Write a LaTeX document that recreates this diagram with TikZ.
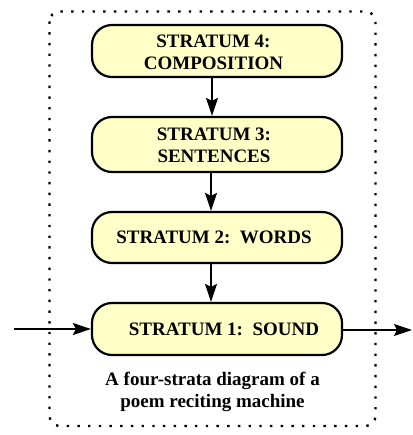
\documentclass[tikz,border=0pt]{standalone}
\usepackage{fontspec}
\setmainfont{Liberation Serif}
\usetikzlibrary{arrows.meta}
\definecolor{boxfill}{HTML}{FFFFC8}
\tikzset{
  stratum/.style={draw=black, line width=2.2pt, fill=boxfill, rounded corners=20pt,
    minimum width=250pt, inner sep=0pt, font=\fontsize{19}{22}\selectfont\bfseries,
    align=center},
  lbl/.style={font=\fontsize{19}{22}\selectfont\bfseries, inner sep=0pt, align=center},
  flow/.style={line width=1.3pt, -{Stealth[length=18pt,width=12pt,inset=3pt]}},
  frame/.style={line width=2.4pt, dash pattern=on 2.4pt off 8.3pt, rounded corners=10pt},
}
\begin{document}
\begin{tikzpicture}[x=1pt,y=-1pt]
\useasboundingbox (0,0) rectangle (412,435);
\draw[frame] (49.5,11.5) rectangle (375.5,426);
\node[stratum, minimum height=52pt] (s4) at (217,51) {};
\node[stratum, minimum height=55pt] (s3) at (217,144.5) {};
\node[stratum, minimum height=51pt] (s2) at (217,237.5) {};
\node[stratum, minimum height=52pt] (s1) at (217,329) {};
\node[lbl] (t4) at (213.5,52) {STRATUM 4:\\COMPOSITION};
\node[lbl] (t3) at (214,145) {STRATUM 3:\\SENTENCES};
\node[lbl] (t2) at (214,237.5) {STRATUM 2:\ \ WORDS};
\node[lbl] (t1) at (224,329) {STRATUM 1:\ \ SOUND};
\node[lbl] (cap) at (212.5,392) {A four-strata diagram of a\\poem reciting machine};
\coordinate (in) at (14,329);
\coordinate (out) at (412,330);
\draw[flow] (s4.south -| 212,0) -- (s3.north -| 212,0);
\draw[flow] (s3.south -| 211,0) -- (s2.north -| 211,0);
\draw[flow] (s2.south -| 211,0) -- (s1.north -| 211,0);
\draw[flow] (in) -- (s1.west);
\draw[flow] (s1.east |- out) -- (out);
\end{tikzpicture}
\end{document}
